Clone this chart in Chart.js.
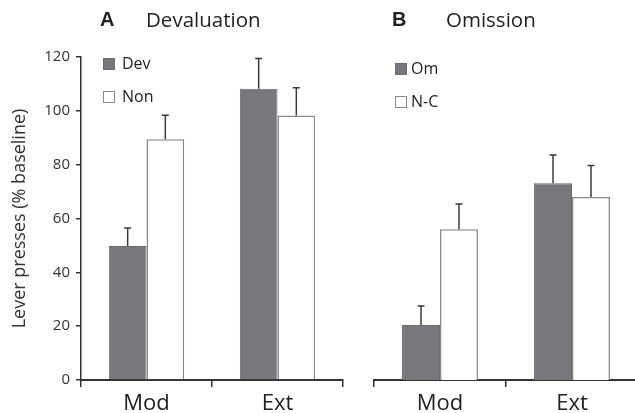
<!DOCTYPE html>
<html>
<head>
    <title>Devaluation and Omission</title>
    <script src="https://cdn.jsdelivr.net/npm/chart.js"></script>
    <style>
        body {
            margin: 0;
            background: #fff;
            width: 635px;
            height: 413px;
            overflow: hidden;
            position: relative;
            font-family: "Open Sans", Arial, sans-serif;
            color: #222;
        }
        .panel { position: absolute; top: 0; height: 413px; }
        #panelA { left: 0; width: 350px; }
        #panelB { left: 330px; width: 310px; }
        .letter {
            position: absolute;
            font-family: "Liberation Sans", Arial, sans-serif;
            font-weight: bold;
            font-size: 20px;
            top: 8px;
        }
        .title { position: absolute; font-size: 20.5px; top: 5px; }
        .legend { position: absolute; font-size: 16px; line-height: 20px; }
        .legend span.box {
            display: inline-block;
            width: 10px;
            height: 10px;
            margin-right: 7px;
            vertical-align: -1px;
        }
    </style>
</head>
<body>
    <div class="panel" id="panelA"><canvas id="chartA"></canvas></div>
    <div class="panel" id="panelB"><canvas id="chartB"></canvas></div>

    <div class="letter" style="left:100px">A</div>
    <div class="title" style="left:146px">Devaluation</div>
    <div class="letter" style="left:392px">B</div>
    <div class="title" style="left:446px">Omission</div>

    <div class="legend" style="left:103px; top:53px">
        <span class="box" style="background:#77787c; border:1px solid #6a6a6e"></span>Dev
    </div>
    <div class="legend" style="left:103px; top:86px">
        <span class="box" style="background:#fff; border:1px solid #888"></span>Non
    </div>
    <div class="legend" style="left:395px; top:58px">
        <span class="box" style="background:#77787c; border:1px solid #6a6a6e; margin-right:4px"></span>Om
    </div>
    <div class="legend" style="left:395px; top:91px">
        <span class="box" style="background:#fff; border:1px solid #888; margin-right:4px"></span>N-C
    </div>

    <script>
        const categories = ['Mod', 'Ext'];
        const yTicks = [0, 20, 40, 60, 80, 100, 120];

        // panel A: devaluation
        const devMeans = [49.8, 108.2];
        const devErr = [6.7, 11.2];
        const nonMeans = [89.4, 98.3];
        const nonErr = [9.0, 10.3];

        // panel B: omission
        const omMeans = [20.4, 73.1];
        const omErr = [7.1, 10.5];
        const ncMeans = [56.0, 68.0];
        const ncErr = [9.4, 11.7];

        const darkFill = '#77787c';
        const axisColor = '#333';

        const errorBars = {
            id: 'errorBars',
            afterDatasetsDraw(chart) {
                const ctx = chart.ctx;
                const yScale = chart.scales.y;
                chart.data.datasets.forEach((ds, i) => {
                    const meta = chart.getDatasetMeta(i);
                    meta.data.forEach((bar, j) => {
                        const top = yScale.getPixelForValue(ds.data[j] + ds.errors[j]);
                        ctx.save();
                        ctx.strokeStyle = '#3a3a3a';
                        ctx.lineWidth = 1.5;
                        ctx.beginPath();
                        ctx.moveTo(bar.x, bar.y);
                        ctx.lineTo(bar.x, top);
                        ctx.moveTo(bar.x - 3.5, top);
                        ctx.lineTo(bar.x + 3.5, top);
                        ctx.stroke();
                        ctx.restore();
                    });
                });
            }
        };

        function makeDatasets(m1, e1, m2, e2) {
            return [
                {
                    data: m1, errors: e1,
                    backgroundColor: darkFill, borderColor: '#6a6a6e', borderWidth: 1,
                    barPercentage: 1, categoryPercentage: 0.575
                },
                {
                    data: m2, errors: e2,
                    backgroundColor: '#fff', borderColor: '#8a8a8a', borderWidth: 1.5,
                    barPercentage: 1, categoryPercentage: 0.575
                }
            ];
        }

        function xAxis() {
            return {
                offset: true,
                grid: { offset: true, drawOnChartArea: false, drawTicks: true, tickLength: 7, color: axisColor, lineWidth: 1.5 },
                border: { color: axisColor, width: 2 },
                ticks: { font: { size: 22, family: 'Open Sans' }, color: '#222', padding: 4 },
                afterFit: s => { s.height = 33; }
            };
        }

        function makeChart(id, datasets, showY, padding) {
            new Chart(document.getElementById(id), {
                type: 'bar',
                data: { labels: categories, datasets: datasets },
                options: {
                    responsive: true,
                    maintainAspectRatio: false,
                    animation: false,
                    layout: { padding: padding },
                    plugins: { legend: { display: false }, tooltip: { enabled: false } },
                    scales: {
                        x: xAxis(),
                        y: {
                            display: showY,
                            min: 0,
                            max: 120,
                            afterBuildTicks: s => { s.ticks = yTicks.map(v => ({ value: v })); },
                            ticks: { font: { size: 15, family: 'Open Sans' }, color: '#333', padding: 6 },
                            grid: { drawOnChartArea: false, tickLength: 5, color: axisColor, lineWidth: 1.5 },
                            border: { color: axisColor, width: 1.5 },
                            title: {
                                display: true,
                                text: 'Lever presses (% baseline)',
                                font: { size: 18, family: 'Open Sans' },
                                color: '#333',
                                padding: { top: 9, bottom: 0 }
                            },
                            afterFit: s => { s.width = showY ? 81 : 0; }
                        }
                    }
                },
                plugins: [errorBars]
            });
        }

        makeChart('chartA', makeDatasets(devMeans, devErr, nonMeans, nonErr), true,
            { top: 57, right: 7, left: 0, bottom: 0 });
        makeChart('chartB', makeDatasets(omMeans, omErr, ncMeans, ncErr), false,
            { top: 57, right: 2, left: 44, bottom: 0 });
    </script>
</body>
</html>
